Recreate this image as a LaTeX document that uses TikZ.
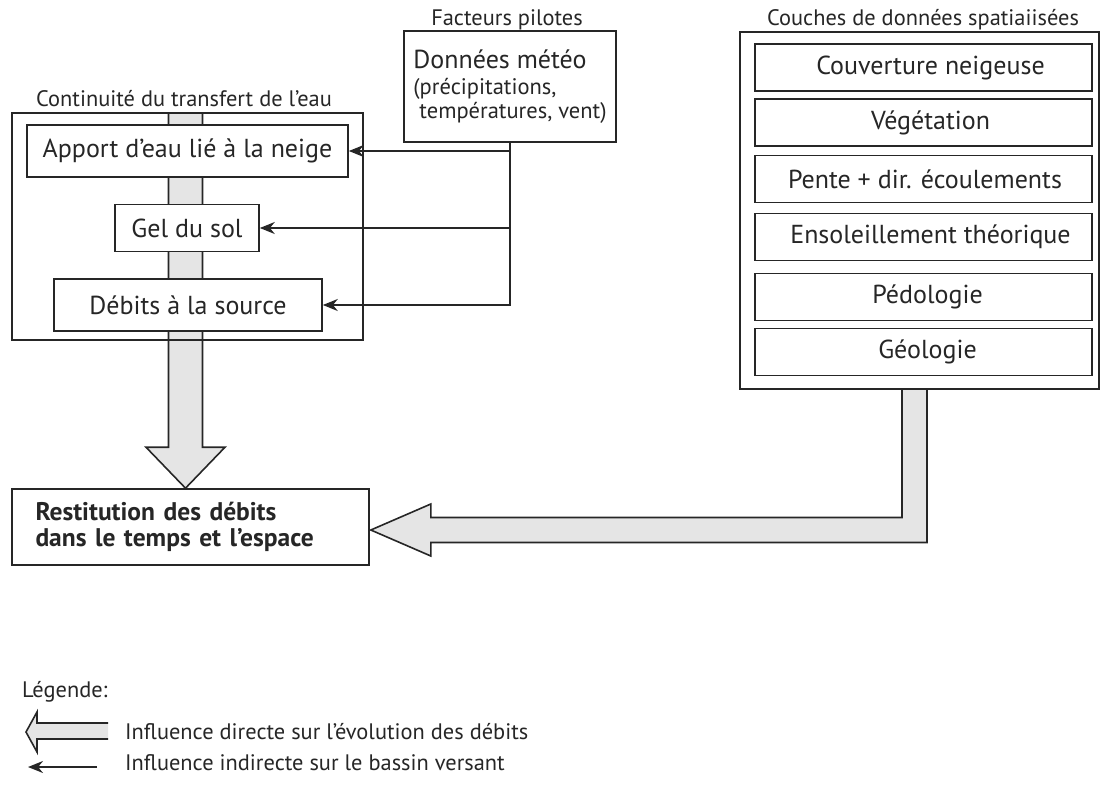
\documentclass[tikz,border=0pt]{standalone}
\usepackage{fontspec}
\setmainfont{PT Sans}
\usetikzlibrary{arrows.meta,calc,backgrounds}

\begin{document}
\begin{tikzpicture}[x=1pt, y=-1pt, >={Stealth[length=15pt,width=12pt]},
   box/.style={draw=black!85, line width=1.6pt, fill=white, inner sep=0pt, text=black!85, font=\fontsize{26}{30}\selectfont},
   frame/.style={draw=black!85, line width=1.6pt, inner sep=0pt},
   title/.style={text=black!85, font=\fontsize{22.4}{26}\selectfont},
   fat/.style={draw=black!85, line width=1.6pt, fill=black!10, line join=miter},
   link/.style={draw=black!85, line width=1.9pt}]
   \useasboundingbox (0,0) rectangle (1102,785);

   \node (transfert) at (187.5,226.5) [frame, minimum width=351, minimum height=227] {};
   \node (transfertlbl) at (184,99) [title] {Continuité du transfert de l’eau};
   \node (apport) at (187.5,151) [box, minimum width=321, minimum height=52] {Apport d’eau lié à la neige};
   \node (gel) at (187,228) [box, minimum width=144, minimum height=47] {Gel du sol};
   \node (debits) at (188,305) [box, minimum width=268, minimum height=52] {Débits à la source};

   \node (meteo) at (510,86.5) [box, minimum width=212, minimum height=111, align=left]
      {Données météo\\[-4pt]{\fontsize{22.5}{20}\selectfont(précipitations,}\\[-6pt]{\fontsize{22.5}{20}\selectfont\ températures, vent)}};
   \node (meteolbl) at (507,20) [title] {Facteurs pilotes};

   \node (couches) at (919.5,210.5) [frame, minimum width=359, minimum height=357] {};
   \node (coucheslbl) at (923,20) [title] {Couches de données spatiaiisées};
   \node (neige) at (923.5,67.5) [box, minimum width=337, minimum height=47] {\hspace{14pt}Couverture neigeuse};
   \node (vege) at (923.5,122.5) [box, minimum width=337, minimum height=47] {\hspace{14pt}Végétation};
   \node (pente) at (923.5,179) [box, minimum width=337, minimum height=47] {\hspace{3pt}Pente + dir. écoulements};
   \node (soleil) at (923.5,237) [box, minimum width=337, minimum height=47] {\hspace{14pt}Ensoleillement théorique};
   \node (pedo) at (923.5,297) [box, minimum width=337, minimum height=47] {\hspace{8pt}Pédologie};
   \node (geol) at (923.5,352) [box, minimum width=337, minimum height=47] {\hspace{8pt}Géologie};

   \node (restitution) at (190.5,527) [box, minimum width=357, minimum height=76, text width=310, inner xsep=23.5, align=left, font=\bfseries\fontsize{25.5}{26}\selectfont]
      {Restitution des débits\\dans le temps et l’espace};

   \draw[link,->] (meteo.south) |- (apport.east);
   \draw[link,->] (meteo.south) |- (gel.east);
   \draw[link,->] (meteo.south) |- (debits.east);

   \begin{scope}[on background layer]
   \coordinate (dtop) at ($(transfert.north)+(-2,0)$);
   \coordinate (dhead) at ($(restitution.north)+(0,-41)$);
   \draw[fat] ($(dtop)+(-17,0)$) -- ($(dtop|-dhead)+(-17,0)$) -- ($(dtop|-dhead)+(-39.5,0)$) -- (dtop|-restitution.north)
      -- ($(dtop|-dhead)+(39.5,0)$) -- ($(dtop|-dhead)+(17,0)$) -- ($(dtop)+(17,0)$);
   \coordinate (rtop) at ($(couches.south)+(-5,0)$);
   \coordinate (rtip) at ($(restitution.east)+(1,3)$);
   \draw[fat] ($(rtop)+(-12.5,0)$) -- ($(rtop|-rtip)+(-12.5,-12.5)$) -- ($(rtip)+(60,-12.5)$) -- ($(rtip)+(60,-26)$) -- (rtip)
      -- ($(rtip)+(60,26)$) -- ($(rtip)+(60,12.5)$) -- ($(rtop|-rtip)+(12.5,12.5)$) -- ($(rtop)+(12.5,0)$);
   \end{scope}

   \node (legende) at (22,692) [title, anchor=west, inner sep=0pt] {Légende:};
   \coordinate (legtip) at (26,732);
   \draw[fat] (108,723) -- (37,723) -- (37,712) -- (legtip) -- (37,752) -- (37,739) -- (108,739);
   \node (directe) at (125,732) [title, anchor=west, inner sep=0pt] {Influence directe sur l’évolution des débits};
   \coordinate (legA) at (97,767);
   \coordinate (legB) at (28,767);
   \draw[link,->] (legA) -- (legB);
   \node (indirecte) at (125,763) [title, anchor=west, inner sep=0pt] {Influence indirecte sur le bassin versant};
\end{tikzpicture}
\end{document}
